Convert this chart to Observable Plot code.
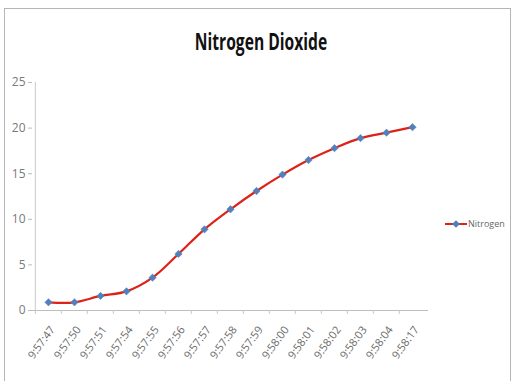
<!DOCTYPE html>
<html>
<head>
<meta charset="utf-8">
<script src="https://cdn.jsdelivr.net/npm/d3@7"></script>
<script src="https://cdn.jsdelivr.net/npm/@observablehq/plot@0.6"></script>
<style>
  body { margin: 0; background: #fff; }
  #wrap { position: relative; width: 513px; height: 381px; overflow: hidden; background: #fff; }
  #frame { position: absolute; left: 4px; top: 8px; width: 507px; height: 390px; border: 1px solid #b5b5b5; box-sizing: border-box; }
  #title { position: absolute; left: 0; top: 0; width: 513px; height: 60px; }
  #title span { position: absolute; left: 261px; top: 41px; transform: translate(-50%, -50%) scaleX(0.68); white-space: nowrap;
           font-family: "Open Sans", sans-serif; font-weight: bold; font-size: 23px; line-height: 24px; color: #111; }
  #chart { position: absolute; left: 0; top: 60px; }
  #legend { position: absolute; left: 444px; top: 217px; font-family: "Open Sans", sans-serif; font-size: 9px; color: #666; display: flex; align-items: center; }
</style>
</head>
<body>
<div id="wrap">
  <div id="frame"></div>
  <div id="title"><span>Nitrogen Dioxide</span></div>
  <div id="chart"></div>
  <div id="legend"><svg width="24" height="12"><line x1="1" y1="6" x2="23" y2="6" stroke="#dc2219" stroke-width="2"/><path d="M12,2.2 L15.8,6 L12,9.8 L8.2,6 Z" fill="#4f81bd"/></svg><span>Nitrogen</span></div>
</div>
<script>
const times = ["9:57:47","9:57:50","9:57:51","9:57:54","9:57:55","9:57:56","9:57:57","9:57:58","9:57:59","9:58:00","9:58:01","9:58:02","9:58:03","9:58:04","9:58:17"];
const nitrogen = [0.9, 0.9, 1.6, 2.1, 3.6, 6.2, 8.9, 11.1, 13.1, 14.9, 16.5, 17.8, 18.9, 19.5, 20.1];
const yTicks = [0, 5, 10, 15, 20, 25];
const seriesName = "Nitrogen";

const data = times.map((t, i) => ({time: t, value: nitrogen[i], series: seriesName}));
const bandW = (428 - 32) / times.length;
const font = '"Open Sans", sans-serif';

const chart = Plot.plot({
  width: 513,
  height: 321,
  marginLeft: 32,
  marginRight: 85,
  marginTop: 22,
  marginBottom: 71,
  style: {fontFamily: font, fontSize: "11px", color: "#777", background: "transparent"},
  x: {type: "band", domain: times, padding: 0, label: null},
  y: {domain: [0, 25], label: null},
  marks: [
    Plot.ruleX([0], {x: () => times[0], dx: -bandW / 2, y1: 0, y2: 25, stroke: "#c8c8c8"}),
    Plot.ruleY([0], {stroke: "#bdbdbd", strokeWidth: 1.2}),
    Plot.axisY({ticks: yTicks, tickSize: 4, tickPadding: 3, stroke: "#bbb", fill: "#7a7a7a", fontSize: 12}),
    Plot.axisX({tickSize: 4, text: null, stroke: "#c8c8c8", dx: -bandW / 2}),
    Plot.axisX({tickSize: 0, tickRotate: -54, tickPadding: 17, fill: "#6a6a6a", fontSize: 11, dx: 4}),
    Plot.line(data, {x: "time", y: "value", stroke: "#dc2219", strokeWidth: 2.2, curve: "catmull-rom"}),
    Plot.dot(data, {x: "time", y: "value", symbol: "diamond2", r: 3.3, fill: "#4f81bd", stroke: "#5a84bd", strokeWidth: 0.6})
  ]
});
document.getElementById("chart").appendChild(chart);
</script>
</body>
</html>
